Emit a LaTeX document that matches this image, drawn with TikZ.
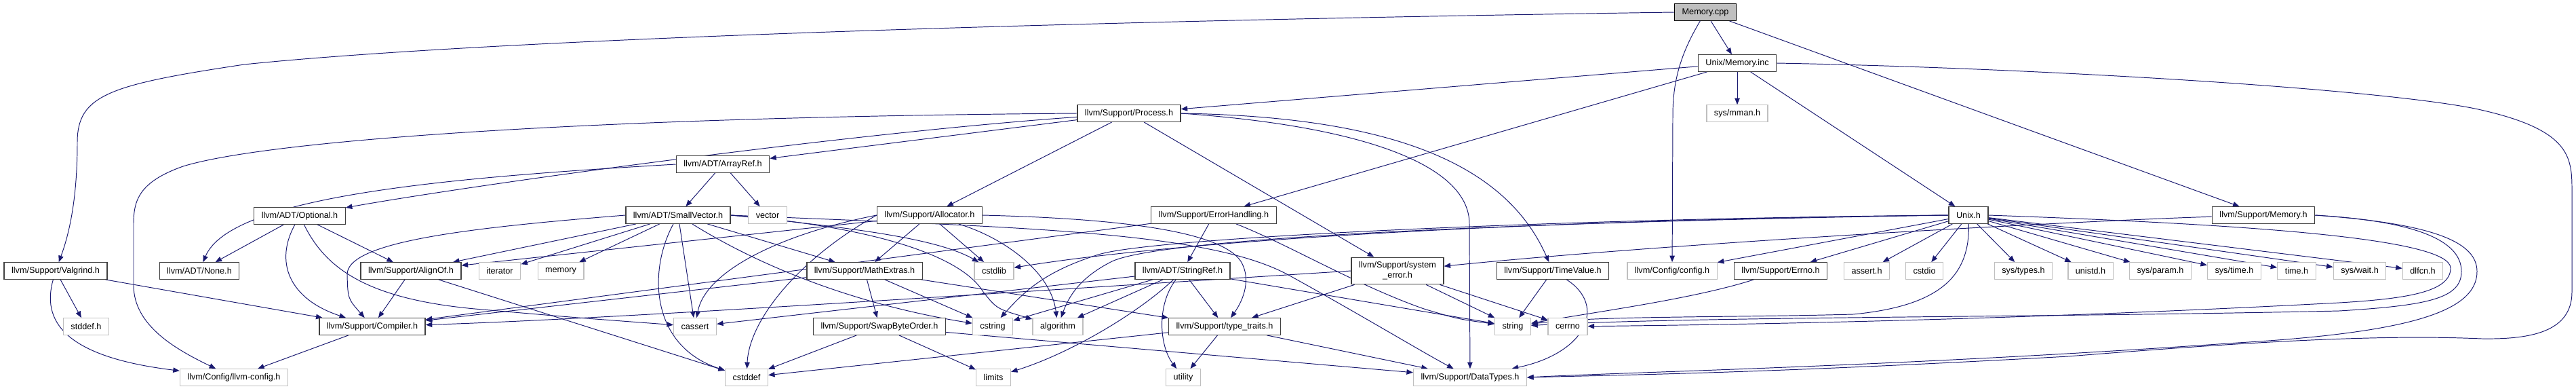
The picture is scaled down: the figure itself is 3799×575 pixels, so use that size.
\documentclass[tikz,border=0pt]{standalone}
\usepackage{fontspec}
\setmainfont{Liberation Sans}
\usetikzlibrary{arrows.meta,backgrounds}
\definecolor{edgeblue}{HTML}{191970}
\definecolor{sysgray}{HTML}{BFBFBF}
\definecolor{framegray}{HTML}{404040}

\begin{document}
\begin{tikzpicture}[
    x=0.02cm, y=-0.02cm,
    box/.style={rectangle, draw=framegray, fill=white, line width=0.75pt, inner sep=0pt, inner xsep=0.22cm, minimum height=0.49cm, align=center, font=\fontsize{7.2}{8.5}\selectfont},
    sysbox/.style={box, draw=sysgray},
    srcbox/.style={box, draw=black, fill=sysgray},
    incl/.style={-{Triangle[length=0.19cm, width=0.15cm]}, color=edgeblue, line width=0.55pt},
]
\useasboundingbox (0,0) rectangle (3799,575);

% ====== Source file and direct includes ======
\node[srcbox] (mcpp) at (2515,18) {Memory.cpp};
\node[box] (minc) at (2562,93) {Unix/Memory.inc};
\node[sysbox] (mman) at (2562,167) {sys/mman.h};
\node[box] (proc) at (1665,167) {llvm/Support/Process.h};
\node[box] (aref) at (1066,242) {llvm/ADT/ArrayRef.h};

% ====== Second level ======
\node[box] (opt) at (442,318) {llvm/ADT/Optional.h};
\node[box] (svec) at (1000,317) {llvm/ADT/SmallVector.h};
\node[sysbox] (vec) at (1132,317) {vector};
\node[box] (alloc) at (1371,317) {llvm/Support/Allocator.h};
\node[box] (errh) at (1790,317) {llvm/Support/ErrorHandling.h};
\node[box] (unixh) at (2903,317) {Unix.h};
\node[box] (memh) at (3338,317) {llvm/Support/Memory.h};

% ====== Third level ======
\node[box] (valg) at (82,399) {llvm/Support/Valgrind.h};
\node[box] (none) at (294,399) {llvm/ADT/None.h};
\node[box] (align) at (606,399) {llvm/Support/AlignOf.h};
\node[sysbox] (iter) at (737,399) {iterator};
\node[sysbox] (mem) at (827,399) {memory};
\node[box] (mathx) at (1275,399) {llvm/Support/MathExtras.h};
\node[sysbox] (cstdlib) at (1466,399) {cstdlib};
\node[box] (sref) at (1744,399) {llvm/ADT/StringRef.h};
\node[box, minimum height=0.79cm] (syserr) at (2061,399) {llvm/Support/system\\\_error.h};
\node[box] (tval) at (2290,399) {llvm/Support/TimeValue.h};
\node[sysbox] (config) at (2466,399) {llvm/Config/config.h};
\node[box] (errno) at (2626,399) {llvm/Support/Errno.h};
\node[sysbox] (asserth) at (2753,399) {assert.h};
\node[sysbox] (cstdio) at (2838,399) {cstdio};
\node[sysbox] (systypes) at (2984,399) {sys/types.h};
\node[sysbox] (unistd) at (3083,399) {unistd.h};
\node[sysbox] (sysparam) at (3186,399) {sys/param.h};
\node[sysbox] (systime) at (3295,399) {sys/time.h};
\node[sysbox] (timeh) at (3387,399) {time.h};
\node[sysbox] (syswait) at (3480,399) {sys/wait.h};
\node[sysbox] (dlfcn) at (3573,399) {dlfcn.h};

% ====== Fourth level ======
\node[sysbox] (stddef) at (127,481) {stddef.h};
\node[box] (comp) at (549,481) {llvm/Support/Compiler.h};
\node[sysbox] (cassert) at (1025,481) {cassert};
\node[box] (swap) at (1297,481) {llvm/Support/SwapByteOrder.h};
\node[sysbox] (cstring) at (1464,481) {cstring};
\node[sysbox] (algo) at (1560,481) {algorithm};
\node[box] (ttraits) at (1806,481) {llvm/Support/type\_traits.h};
\node[sysbox] (string) at (2231,481) {string};
\node[sysbox] (cerrno) at (2312,481) {cerrno};

% ====== Bottom row ======
\node[sysbox] (lconf) at (345,556) {llvm/Config/llvm-config.h};
\node[sysbox] (cstddef) at (1101,556) {cstddef};
\node[sysbox] (limits) at (1465,556) {limits};
\node[sysbox] (utility) at (1745,556) {utility};
\node[sysbox] (dtypes) at (2168,556) {llvm/Support/DataTypes.h};

\begin{scope}[on background layer]
% ====== Memory.cpp ======
\draw[incl] (mcpp.west) .. controls (1500,32) and (700,60) .. (360,95) .. controls (160,125) and (114,140) .. (114,210) .. controls (114,300) and (100,350) .. (valg);
\draw[incl] (mcpp) .. controls (2478,80) and (2467,120) .. (2467,170) -- (config);
\draw[incl] (mcpp) -- (minc);
\draw[incl] (mcpp) -- (memh);

% ====== Unix/Memory.inc ======
\draw[incl] (minc) -- (proc);
\draw[incl] (minc) -- (mman);
\draw[incl] (minc) -- (unixh);
\draw[incl] (minc) -- (errh);
\draw[incl] (minc.east) .. controls (3000,100) and (3500,130) .. (3650,160) .. controls (3790,190) and (3793,230) .. (3793,280) -- (3793,430) .. controls (3793,490) and (3730,500) .. (3660,499) .. controls (3500,492) and (3300,505) .. (3050,525) .. controls (2600,550) and (2400,552) .. (dtypes.east);

% ====== Memory.h ======
\draw[incl] (memh) .. controls (3100,324) and (2500,355) .. (syserr);
\draw[incl] (memh.east) .. controls (3550,325) and (3630,350) .. (3630,400) .. controls (3630,440) and (3580,450) .. (3450,458) .. controls (3000,468) and (2500,466) .. (string);
\draw[incl] (memh.east) .. controls (3600,330) and (3653,360) .. (3653,400) .. controls (3653,460) and (3550,490) .. (3300,505) .. controls (2800,540) and (2400,548) .. (dtypes.east);

% ====== Unix.h ======
\draw[incl] (unixh) -- (config);
\draw[incl] (unixh) -- (errno);
\draw[incl] (unixh) -- (asserth);
\draw[incl] (unixh) -- (cstdio);
\draw[incl] (unixh) -- (systypes);
\draw[incl] (unixh) -- (unistd);
\draw[incl] (unixh) -- (sysparam);
\draw[incl] (unixh) -- (systime);
\draw[incl] (unixh) -- (timeh);
\draw[incl] (unixh) -- (syswait);
\draw[incl] (unixh) -- (dlfcn);
\draw[incl] (unixh.west) .. controls (2400,322) and (1800,345) .. (cstdlib);
\draw[incl] (unixh.west) .. controls (2300,322) and (1700,350) .. (1620,375) .. controls (1540,400) and (1510,430) .. (cstring);
\draw[incl] (unixh.west) .. controls (2300,326) and (1720,348) .. (1640,385) .. controls (1590,410) and (1575,440) .. (algo);
\draw[incl] (unixh) .. controls (2905,400) and (2870,450) .. (2733,463) .. controls (2550,468) and (2350,465) .. (string);
\draw[incl] (unixh.east) .. controls (3300,330) and (3614,350) .. (3614,395) .. controls (3614,430) and (3550,440) .. (3450,446) .. controls (3000,470) and (2600,478) .. (cerrno);

% ====== Process.h ======
\draw[incl] (proc.west) .. controls (900,172) and (400,205) .. (270,245) .. controls (205,268) and (197,295) .. (197,330) -- (197,420) .. controls (197,480) and (260,515) .. (lconf);
\draw[incl] (proc) -- (aref);
\draw[incl] (proc) .. controls (1250,196) and (700,272) .. (opt);
\draw[incl] (proc) -- (alloc);
\draw[incl] (proc) -- (syserr);
\draw[incl] (proc.east) .. controls (2000,185) and (2167,240) .. (2167,330) -- (dtypes);
\draw[incl] (proc.east) .. controls (2050,172) and (2220,240) .. (tval);

% ====== ArrayRef.h, Optional.h, Valgrind.h ======
\draw[incl] (aref.west) .. controls (650,262) and (340,290) .. (none);
\draw[incl] (aref) -- (svec);
\draw[incl] (aref) -- (vec);
\draw[incl] (opt) -- (none);
\draw[incl] (opt) .. controls (405,385) and (425,440) .. (comp);
\draw[incl] (opt) -- (align);
\draw[incl] (opt) .. controls (480,395) and (540,440) .. (700,455) .. controls (850,468) .. (cassert);
\draw[incl] (valg) -- (stddef);
\draw[incl] (valg) .. controls (62,470) and (90,525) .. (lconf);
\draw[incl] (valg) -- (comp);
\draw[incl] (align) -- (comp);
\draw[incl] (align) -- (cstddef);
\draw[incl] (comp) -- (lconf);

% ====== SmallVector.h ======
\draw[incl] (svec) -- (align);
\draw[incl] (svec.west) .. controls (700,335) and (510,355) .. (512,405) .. controls (513,440) .. (comp);
\draw[incl] (svec) -- (iter);
\draw[incl] (svec) -- (mem);
\draw[incl] (svec) -- (cassert);
\draw[incl] (svec) .. controls (955,400) and (960,510) .. (cstddef);
\draw[incl] (svec) -- (mathx);
\draw[incl] (svec) .. controls (1150,410) and (1300,455) .. (cstring);
\draw[incl] (svec.east) .. controls (1300,335) and (1420,380) .. (1450,430) .. controls (1470,455) .. (algo);
\draw[incl] (svec.east) .. controls (1250,335) and (1380,350) .. (cstdlib);
\draw[incl] (svec.east) .. controls (1500,335) and (1780,340) .. (1900,405) .. controls (2000,460) and (2100,520) .. (dtypes);

% ====== Allocator.h ======
\draw[incl] (alloc) -- (align);
\draw[incl] (alloc) -- (mathx);
\draw[incl] (alloc) -- (cstdlib);
\draw[incl] (alloc) .. controls (1480,350) and (1550,400) .. (algo);
\draw[incl] (alloc.west) .. controls (1150,345) and (1040,400) .. (cassert);
\draw[incl] (alloc.west) .. controls (1180,380) and (1105,470) .. (cstddef);
\draw[incl] (alloc.east) .. controls (1650,322) and (1800,340) .. (1830,385) .. controls (1845,410) and (1835,440) .. (ttraits);

% ====== ErrorHandling.h, StringRef.h ======
\draw[incl] (errh) -- (comp);
\draw[incl] (errh) -- (sref);
\draw[incl] (errh) .. controls (1900,360) and (2000,420) .. (2100,455) .. controls (2150,470) .. (string);
\draw[incl] (sref) -- (ttraits);
\draw[incl] (sref) -- (algo);
\draw[incl] (sref) -- (cstring);
\draw[incl] (sref) -- (cassert);
\draw[incl] (sref) -- (string);
\draw[incl] (sref) .. controls (1680,460) and (1580,520) .. (limits);
\draw[incl] (sref) .. controls (1705,450) and (1710,510) .. (utility);

% ====== MathExtras.h, SwapByteOrder.h, type_traits.h ======
\draw[incl] (mathx) -- (comp);
\draw[incl] (mathx) -- (swap);
\draw[incl] (mathx) -- (cstring);
\draw[incl] (mathx) -- (ttraits);
\draw[incl] (swap) -- (cstddef);
\draw[incl] (swap) -- (limits);
\draw[incl] (swap) -- (dtypes);
\draw[incl] (ttraits) -- (dtypes);
\draw[incl] (ttraits) -- (cstddef);
\draw[incl] (ttraits) -- (utility);

% ====== system_error.h, TimeValue.h, Errno.h ======
\draw[incl] (syserr) -- (ttraits);
\draw[incl] (syserr) -- (string);
\draw[incl] (syserr) -- (cerrno);
\draw[incl] (syserr.west) .. controls (1500,430) and (900,470) .. (comp);
\draw[incl] (tval) -- (string);
\draw[incl] (tval) .. controls (2370,450) and (2340,520) .. (dtypes);
\draw[incl] (errno) .. controls (2500,440) and (2350,460) .. (string);
\end{scope}

\end{tikzpicture}
\end{document}
